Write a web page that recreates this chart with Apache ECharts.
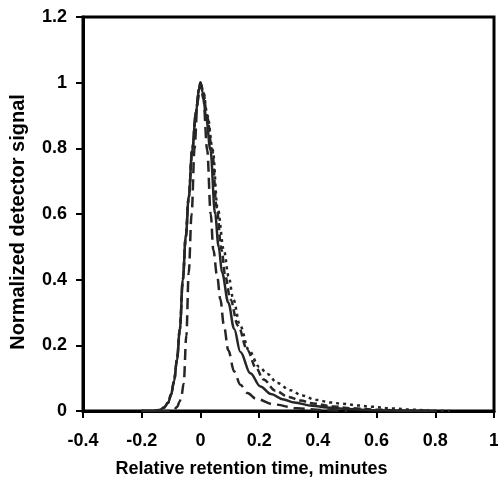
<!DOCTYPE html>
<html>
<head>
<meta charset="utf-8">
<script src="https://cdn.jsdelivr.net/npm/echarts@6/dist/echarts.min.js"></script>
<style>html,body{margin:0;padding:0;background:#fff}#c{width:498px;height:477px}</style>
</head>
<body>
<div id="c"></div>
<script>
// Solid curve
var solidT = [-0.2,-0.16,-0.14,-0.125,-0.11,-0.1,-0.09,-0.08,-0.07,-0.06,-0.05,-0.04,-0.028,-0.015,-0.005,0,0.008,0.02,0.034,0.05,0.062,0.074,0.095,0.115,0.136,0.17,0.204,0.24,0.28,0.32,0.38,0.43,0.5,0.6,0.7,0.8];
var solidY = [0,0,0.003,0.01,0.025,0.05,0.09,0.155,0.25,0.4,0.53,0.65,0.795,0.91,0.98,1.0,0.97,0.89,0.795,0.6,0.5,0.42,0.33,0.25,0.18,0.115,0.075,0.052,0.036,0.026,0.016,0.011,0.006,0.002,0.0005,0];
// Long-dash curve (narrowest)
var longT = [-0.2,-0.1,-0.09,-0.08,-0.07,-0.065,-0.057,-0.048,-0.04,-0.03,-0.02,-0.01,0,0.01,0.023,0.035,0.044,0.057,0.068,0.08,0.095,0.115,0.136,0.16,0.19,0.25,0.33,0.42,0.5];
var longY = [0,0,0.003,0.012,0.03,0.045,0.084,0.23,0.42,0.6,0.8,0.94,1.0,0.95,0.795,0.6,0.49,0.41,0.34,0.26,0.185,0.12,0.08,0.055,0.037,0.02,0.008,0.003,0];
// Medium-dash curve
var medT = [-0.2,-0.16,-0.14,-0.125,-0.11,-0.1,-0.09,-0.08,-0.07,-0.06,-0.05,-0.04,-0.028,-0.015,-0.005,0,0.01,0.022,0.04,0.055,0.072,0.085,0.102,0.128,0.16,0.19,0.215,0.255,0.3,0.34,0.385,0.45,0.52,0.6,0.7,0.8];
var medY = [0,0,0.003,0.01,0.025,0.05,0.09,0.155,0.25,0.4,0.53,0.65,0.795,0.91,0.98,1.0,0.97,0.9,0.795,0.62,0.49,0.41,0.34,0.26,0.185,0.13,0.096,0.062,0.043,0.032,0.023,0.014,0.008,0.004,0.001,0];
// Dotted curve (widest tail)
var dotT = [-0.2,-0.16,-0.14,-0.125,-0.11,-0.1,-0.09,-0.08,-0.07,-0.06,-0.05,-0.04,-0.028,-0.015,-0.005,0,0.01,0.024,0.042,0.058,0.08,0.096,0.112,0.135,0.165,0.2,0.228,0.262,0.307,0.347,0.392,0.443,0.484,0.535,0.58,0.65,0.72,0.8,0.85];
var dotY = [0,0,0.003,0.01,0.025,0.05,0.09,0.155,0.25,0.4,0.53,0.65,0.795,0.91,0.98,1.0,0.97,0.9,0.795,0.62,0.49,0.41,0.34,0.26,0.185,0.135,0.113,0.085,0.063,0.047,0.034,0.026,0.022,0.017,0.013,0.008,0.004,0.001,0];

var xTitle = 'Relative retention time, minutes';
var yTitle = 'Normalized detector signal';

function pairs(t, y){ return t.map(function(v,i){ return [v, y[i]]; }); }

var lineColor = '#262626';
var font = '"Liberation Sans", Arial, sans-serif';
function mk(t, y, type){
  return {type:'line', data:pairs(t,y), smooth:0.35, smoothMonotone:'x', showSymbol:false, symbol:'none',
    lineStyle:{color:lineColor, width:2.5, type:type}, z:3};
}

var chart = echarts.init(document.getElementById('c'), null, {renderer:'canvas'});
chart.setOption({
  animation:false,
  backgroundColor:'#fff',
  grid:{left:83, right:4, top:17, bottom:66, outerBoundsMode:'none', containLabel:false,
    show:true, borderColor:'#000', borderWidth:3, backgroundColor:'transparent'},
  xAxis:{type:'value', min:-0.4, max:1, interval:0.2,
    name:xTitle, nameLocation:'middle', nameGap:49,
    nameTextStyle:{fontFamily:font, fontWeight:'bold', fontSize:18, color:'#000', padding:[0,74,0,0]},
    axisLine:{show:true, onZero:false, lineStyle:{color:'#000', width:3}},
    axisTick:{show:true, length:7, lineStyle:{color:'#000', width:2}},
    axisLabel:{fontFamily:font, fontWeight:'bold', fontSize:18, color:'#000', margin:21,
      formatter:function(v){ return String(Math.round(v*10)/10); }},
    splitLine:{show:false}},
  yAxis:{type:'value', min:0, max:1.2, interval:0.2,
    name:yTitle, nameLocation:'middle', nameGap:55,
    nameTextStyle:{fontFamily:font, fontWeight:'bold', fontSize:20, color:'#000', padding:[0,16,0,0]},
    axisLine:{show:true, onZero:false, lineStyle:{color:'#000', width:3}},
    axisTick:{show:true, length:7, lineStyle:{color:'#000', width:2}},
    axisLabel:{fontFamily:font, fontWeight:'bold', fontSize:18, color:'#000', margin:16,
      formatter:function(v){ return String(Math.round(v*10)/10); }},
    splitLine:{show:false}},
  series:[
    mk(dotT, dotY, [3,4]),
    mk(medT, medY, [7,4]),
    mk(solidT, solidY, 'solid'),
    mk(longT, longY, [11,6])
  ]
});
</script>
</body>
</html>
